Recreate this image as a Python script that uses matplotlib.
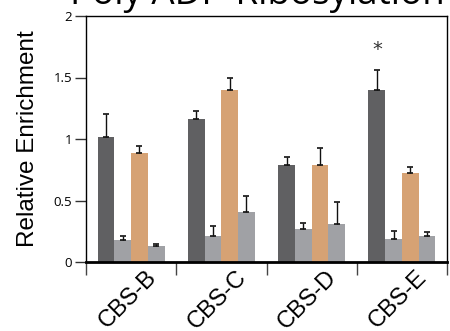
import matplotlib
matplotlib.use("Agg")
import matplotlib.pyplot as plt
import matplotlib.transforms as mtransforms
import numpy as np

categories = ["CBS-B", "CBS-C", "CBS-D", "CBS-E"]
series1 = [1.02, 1.16, 0.79, 1.40]
series1_err = [0.18, 0.07, 0.06, 0.16]
series2 = [0.18, 0.21, 0.27, 0.19]
series2_err = [0.03, 0.08, 0.05, 0.06]
series3 = [0.89, 1.40, 0.79, 0.72]
series3_err = [0.05, 0.10, 0.14, 0.05]
series4 = [0.13, 0.41, 0.31, 0.21]
series4_err = [0.02, 0.13, 0.18, 0.03]
yticks = [0, 0.5, 1, 1.5, 2]
ytick_labels = ["0", "0.5", "1", "1.5", "2"]
title = "Poly ADP-Ribosylation"
ylabel = "Relative Enrichment"
star_group = 3
star_value = 1.73

colors = ["#606062", "#a0a1a5", "#d6a274", "#a0a1a5"]

fig = plt.figure(figsize=(4.5, 3.31), dpi=100)
ax = fig.add_axes([86/450, 1-262/331, (447-86)/450, (262-16)/331])

x = np.arange(len(categories)) + 0.5
w = 0.185
allv = [series1, series2, series3, series4]
alle = [series1_err, series2_err, series3_err, series4_err]
for i, (v, e) in enumerate(zip(allv, alle)):
    xpos = x + (i - 1.5) * w
    ax.bar(xpos, v, width=w, color=colors[i], zorder=2)
    ax.errorbar(xpos, v, yerr=[np.zeros(len(v)), e], fmt='none', ecolor='#111111',
                elinewidth=1.0, capsize=2.5, capthick=1.2, zorder=3)

ax.text(x[star_group] - 1.5 * w, star_value, "*", ha='center', va='center',
        fontsize=14, color='#333333', family='DejaVu Sans')

ax.set_xlim(0, 4)
ax.set_ylim(0, 2)
ax.set_yticks(yticks)
ax.set_yticklabels(ytick_labels, family='Open Sans', fontsize=9.5)
ax.set_xticks([0, 1, 2, 3, 4])
ax.set_xticklabels([])
ax.set_xticks(x, minor=True)
ax.set_xticklabels(categories, minor=True, rotation=45, ha='right', va='top',
                   rotation_mode='anchor', family='Liberation Sans', fontsize=17)
ax.tick_params(axis='x', which='major', direction='out', length=9, width=1, color='#444444')
ax.tick_params(axis='x', which='minor', length=0, pad=3)
ax.tick_params(axis='y', direction='out', length=8, width=1, pad=2, color='#333333')
for lab in ax.get_xticklabels(minor=True):
    lab.set_transform(lab.get_transform() + mtransforms.ScaledTranslation(0.14, 0, fig.dpi_scale_trans))

ax.spines['bottom'].set_linewidth(2)
for s in ['left', 'top', 'right']:
    ax.spines[s].set_linewidth(1)
ax.set_ylabel(ylabel, family='Liberation Sans', fontsize=17.5)
ax.yaxis.set_label_coords(-0.13, 0.5)

fig.text(0.572, 1 - 4/331, title, ha='center', va='baseline', fontsize=26.5, family='Open Sans')

fig.savefig("out.png", dpi=100)
